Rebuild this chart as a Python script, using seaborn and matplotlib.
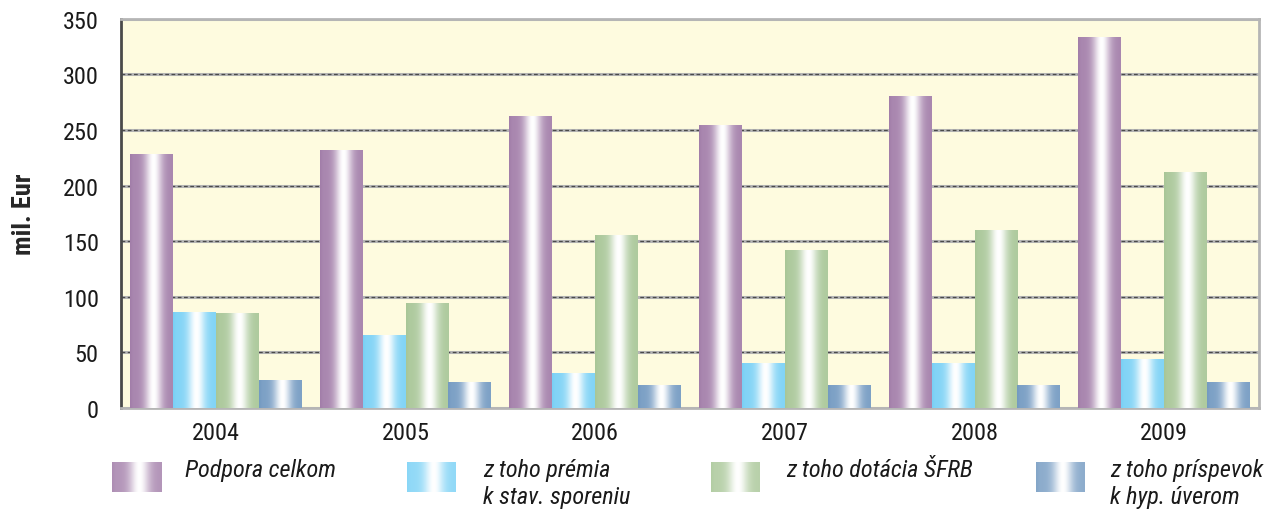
import numpy as np
import pandas as pd
import matplotlib
matplotlib.use("Agg")
from matplotlib import pyplot as plt
from matplotlib import font_manager
from matplotlib.colors import to_rgb
import seaborn as sns

years = ["2004", "2005", "2006", "2007", "2008", "2009"]
series = ["Podpora celkom", "z toho prémia\nk stav. sporeniu",
          "z toho dotácia ŠFRB", "z toho príspevok\nk hyp. úverom"]
podpora = [228, 232, 262, 254, 280, 333]
premia = [86, 65, 31, 40, 40, 44]
dotacia = [85, 94, 155, 142, 160, 212]
prispevok = [25, 23, 20, 20, 20, 23]

colors = ["#9f79a6", "#74cff5", "#a5c493", "#6e96bf"]

# narrow font if there is one
font = "DejaVu Sans"
for f in ["Liberation Sans Narrow", "Roboto Condensed", "Liberation Sans"]:
    try:
        font_manager.findfont(f, fallback_to_default=False)
        font = f
        break
    except Exception:
        pass

sns.set_style("white")
plt.rcParams["font.family"] = [font, "DejaVu Sans"]

df = pd.DataFrame({
    "year": years * 4,
    "serie": np.repeat(series, len(years)),
    "value": podpora + premia + dotacia + prispevok,
})

fig = plt.figure(figsize=(12.66, 5.10), dpi=100)
ax = fig.add_axes([121 / 1266, 0.198, 1138 / 1266, 0.763])
ax.set_facecolor("#fefbdf")

sns.barplot(data=df, x="year", y="value", hue="serie", hue_order=series,
            palette=colors, width=0.905, gap=0, ax=ax, legend=False)


def shade(base, n=200):
    t = np.linspace(0, 1, n)
    f = np.exp(-((t - 0.55) / 0.2) ** 2)
    f = 0.1 + 0.9 * f
    f[: n // 12] *= np.linspace(0.3, 1, n // 12)
    b = np.array(to_rgb(base))
    return (b[None, :] + (1 - b[None, :]) * f[:, None])[None, :, :]


for cont, c in zip(ax.containers, colors):
    img = shade(c)
    for p in cont.patches:
        x0, y0 = p.get_x(), p.get_y()
        w, h = p.get_width(), p.get_height()
        p.set_facecolor("none")
        p.set_edgecolor("none")
        ax.imshow(img, extent=[x0, x0 + w, y0, y0 + h], aspect="auto",
                  interpolation="bilinear", zorder=3)

ax.set_xlim(-0.5, 5.5)
ax.set_ylim(0, 350)
ax.set_yticks(range(0, 351, 50))
ax.yaxis.grid(True, color="#b5b5b5", lw=2.2, zorder=1)
for yv in range(50, 350, 50):
    ax.axhline(yv, color="#4a4a4a", lw=0.9, ls=(0, (3, 2)), zorder=1.5)
ax.set_axisbelow(True)
ax.tick_params(axis="y", length=0, labelsize=17.5, colors="#1a1a1a", pad=16)
ax.tick_params(axis="x", length=0, labelsize=17.5, colors="#1a1a1a", pad=9)
ax.set_xlabel("")
ax.set_ylabel("mil. Eur", fontsize=19, fontweight="bold")
ax.yaxis.set_label_coords(-0.075, 0.5)

for s in ["top", "right", "bottom"]:
    ax.spines[s].set_color("#b5b5b5")
    ax.spines[s].set_linewidth(2)
ax.spines["left"].set_color("#4a4a4a")
ax.spines["left"].set_linewidth(2)

# legend drawn by hand with shaded swatches
sw_x = [112, 407, 711, 1036]
txt_x = [185, 483, 786, 1110]
for sx, tx, lab, c in zip(sw_x, txt_x, series, colors):
    sax = fig.add_axes([sx / 1266, 1 - 493 / 510, 49 / 1266, 30 / 510])
    base = np.array(to_rgb(c))
    base = base + (1 - base) * 0.12
    sax.imshow(shade(base), aspect="auto", interpolation="bilinear")
    sax.axis("off")
    fig.text(tx / 1266, 1 - 459 / 510, lab, fontsize=17.5, style="italic",
             color="#1a1a1a", va="top", ha="left", linespacing=1.2)

fig.savefig("out.png", dpi=100, facecolor="white")
